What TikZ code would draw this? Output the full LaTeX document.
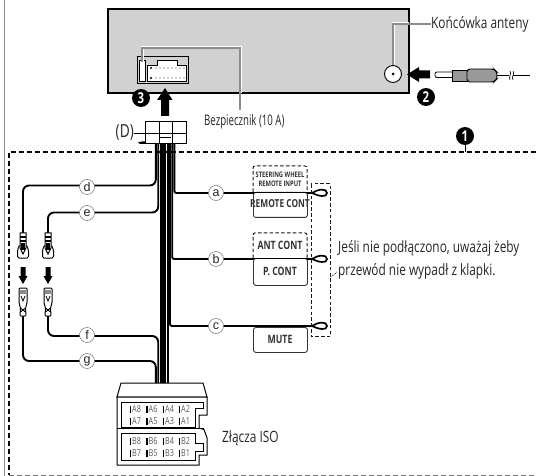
\documentclass[tikz,border=0pt]{standalone}
\usepackage{fontspec}
\setmainfont{Open Sans}[FakeStretch=0.76]
\newfontfamily\circfont{Liberation Sans}
\newfontfamily\narrowfont{Open Sans}[FakeStretch=0.66]
\begin{document}
\begin{tikzpicture}[x=1pt,y=-1pt,
  lab/.style={inner sep=0pt,font=\fontsize{15.6}{17}\selectfont,text=black!85,anchor=west},
  wire/.style={line width=1.9pt,black,rounded corners=6pt},
  wiresq/.style={line width=1.9pt,black,rounded corners=2pt},
  leader/.style={draw=black!45,line width=1.2pt},
  halo/.style={draw=white,line width=3pt},
  numdot/.style={circle,fill=black,text=white,inner sep=0pt,minimum size=18pt,font=\fontsize{15}{15}\selectfont\bfseries},
  wlabel/.style={circle,draw=black!55,line width=.5pt,fill=white,inner sep=0pt,minimum size=15pt,font=\circfont\fontsize{12.5}{12.5}\selectfont,text=black!85},
  bigarrow/.style={draw=none,fill=black},
  dashbox/.style={draw=black!90,line width=1pt,dash pattern=on 3.6pt off 2.2pt},
  termbox/.style={draw=black!80,line width=.9pt,fill=white,rounded corners=2.5pt},
  termtxt/.style={inner sep=0pt,text=black!80,align=center},
  pin/.style={inner sep=0pt,text=black!65,font=\fontsize{9.6}{10}\selectfont,anchor=west},
  frame/.style={line width=1.1pt,dash pattern=on 5pt off 3pt,black}]
\useasboundingbox (0,0) rectangle (536,476);
% outer frame
\draw[black!45,line width=1.4pt] (4.5,0) -- (4.5,476);
\coordinate (ftl) at (9,152); \coordinate (fbl) at (9,475); \coordinate (ftr) at (536,152); \coordinate (fbr) at (536,475);
\draw[frame] (ftr) -- (ftl) -- (fbl);
\draw[frame,black!55,line width=.9pt] (fbl) -- (fbr);
% head unit
\draw[black,line width=1.3pt,fill=black!18] (108,9) rectangle (409,93);
\draw[black,line width=.8pt] (137,56) rectangle (188,83);
\draw[black,line width=.8pt,fill=white] (139,60) rectangle (145,81);
\draw[black,line width=.8pt,fill=white] (147,81) -- (147,65) -- (157,65) -- (157,60) -- (177,60) -- (177,65) -- (186,65) -- (186,81) -- cycle;
\foreach \y in {68,78}{
  \fill (151,\y) circle (1.1pt);
  \foreach \x in {156,160,...,184}{\fill[black!80] (\x,\y) circle (.55pt);}
}
% fuse leader
\coordinate (fusetop) at (142,62); \coordinate (fusec1) at (142,48); \coordinate (fusec2) at (240,48); \coordinate (fuseend) at (240,110);
\draw[halo] (fusetop) -- (fusec1) -- (fusec2) -- (240,93);
\draw[leader] (fusetop) -- (fusec1) -- (fusec2) -- (fuseend);
\node[lab,font=\narrowfont\fontsize{14.6}{16}\selectfont] (fuselab) at (204,122) {Bezpiecznik (10 A)};
% antenna jack
\node[circle,draw=black,line width=.9pt,fill=white,minimum size=17pt,inner sep=0pt] (jack) at (393,74) {};
\fill (jack.center) circle (1.5pt);
\coordinate (jc1) at (393,24);
\node[lab] (antlab) at (431,24) {Końcówka anteny};
\draw[halo] (jack.north) -- (jc1) -- (409,24);
\draw[leader] (jack.north) -- (jc1) -- (antlab.west);
% arrow 2
\fill[bigarrow] (430,70.5) -- (419,70.5) -- (419,67) -- (407,74.5) -- (419,82) -- (419,78.5) -- (430,78.5) -- cycle;
\node[numdot] (n2) at (426,97) {2};
% antenna plug
\draw[black,line width=.8pt,fill=white,rounded corners=2pt] (452,72) -- (435,72) -- (435,77.5) -- (452,77.5);
\draw[black,line width=.9pt,fill=black!40] (452,70) rectangle (467,81);
\draw[black,line width=.9pt,fill=black!40,rounded corners=3pt] (467,69) -- (494,69) -- (497,72) -- (497,79) -- (494,82) -- (467,82) -- cycle;
\draw[black,line width=1.3pt] (497,75.5) -- (509,75.5) (513,75.5) -- (530,75.5);
\draw[black,line width=.6pt] (510,71) .. controls (512,74) and (508,77) .. (510,80);
\draw[black,line width=.6pt] (513,71) .. controls (515,74) and (511,77) .. (513,80);
% arrow 3
\fill[bigarrow] (161,116) -- (161,100) -- (157,100) -- (165,88) -- (172.5,100) -- (169,100) -- (169,116) -- cycle;
\node[numdot] (n3) at (141,98) {3};
% number 1
\node[numdot] (n1) at (465,136) {1};
\coordinate (n1end) at (465,152);
\draw[black,line width=.9pt] (n1) -- (n1end);
% wires
\foreach \x in {160.6,163,165.4,167.8}{\draw[line width=2.1pt] (\x,143) -- (\x,384);}
\coordinate (du) at (23,233); \coordinate (eu) at (48,233); \coordinate (fl) at (48,316); \coordinate (gl) at (23,316);
\coordinate (la) at (311,193); \coordinate (lb) at (311,259); \coordinate (lc) at (311,326);
\draw[wire] (155.8,143) -- (155.8,185.5) -- (23,185.5) -- (du);
\draw[wire] (158.2,143) -- (158.2,212.5) -- (48,212.5) -- (eu);
\draw[wire] (158.2,384) -- (158.2,336) -- (48,336) -- (fl);
\draw[wire] (155.8,384) -- (155.8,361) -- (23,361) -- (gl);
\draw[wiresq] (174.4,143) -- (174.4,193) -- (la);
\draw[wiresq] (172.2,143) -- (172.2,259) -- (lb);
\draw[wiresq] (170,143) -- (170,326) -- (lc);
\node[wlabel] (wd) at (87,187) {d};
\node[wlabel] (we) at (87,213) {e};
\node[wlabel] (wf) at (87,335) {f};
\node[wlabel] (wg) at (87,361) {g};
\node[wlabel] (wa) at (216,193) {a};
\node[wlabel] (wb) at (216,259) {b};
\node[wlabel] (wc) at (216,326) {c};
% (D) connector
\fill[black] (138,142.2) -- (140,144) -- (157,144) -- (157,141.5) -- (142,141.5) -- cycle;
\draw[black,line width=.9pt,fill=white] (145,121) rectangle (186,143);
\draw[black,line width=.9pt] (159,121) -- (159,143) (172,121) -- (172,143) (145,133) -- (159,133) (172,133) -- (186,133);
\draw[black,line width=.9pt,fill=white] (159,133) rectangle (172,143);
\draw[black,line width=.9pt] (160,137) -- (171,137);
\node[lab,anchor=east,font=\fontsize{18}{18}\selectfont] (dlab) at (134,133) {(D)};
\draw[black,line width=.8pt] (dlab.east) -- (145,133);
% terminal boxes
\node[termbox,minimum width=54pt,minimum height=25pt,inner sep=0pt,anchor=north west] (rc) at (253,192) {};
\node[termtxt,font=\fontsize{11}{11}\selectfont\bfseries] at (280,204) {REMOTE CONT};
\node[termbox,minimum width=54pt,minimum height=27pt,inner sep=0pt,anchor=north west] (pc) at (253,258) {};
\node[termtxt,font=\fontsize{11.5}{11.5}\selectfont\bfseries] at (280,271) {P. CONT};
\node[termbox,minimum width=54pt,minimum height=25pt,inner sep=0pt,anchor=north west] (mt) at (253,327) {};
\node[termtxt,font=\fontsize{11.5}{11.5}\selectfont\bfseries] at (280,339) {MUTE};
\draw[wire,rounded corners=0pt] (253,192.5) -- (307,192.5);
\draw[wire,rounded corners=0pt] (253,258.5) -- (307,258.5);
\draw[dashbox,rounded corners=2pt] (253,192) -- (253,166) -- (307,166) -- (307,192);
\draw[dashbox,rounded corners=2pt] (253,258) -- (253,233) -- (307,233) -- (307,258);
\node[termtxt,font=\fontsize{7.6}{8.8}\selectfont\bfseries] at (280,179) {STEERING WHEEL\\REMOTE INPUT};
\node[termtxt,font=\fontsize{11.5}{11.5}\selectfont\bfseries] at (280,245) {ANT CONT};
% loops
\foreach \y in {193,259,326}{
  \draw[black,line width=1.7pt] (307,\y) -- (313,\y);
  \draw[black,line width=1.7pt] (312,\y) .. controls (318,\y-4) and (327,\y-5) .. (327,\y) .. controls (327,\y+5) and (318,\y+3) .. (312,\y);
}
\node[draw=none,inner sep=0pt,minimum width=19pt,minimum height=152pt,anchor=north west] (dbox) at (311,184) {};
\draw[dashbox] (dbox.north west) rectangle (dbox.south east);
\coordinate (tdash) at (337,272);
\draw[dashbox,line width=.7pt,dash pattern=on 1.5pt off 1.2pt] (330,277) .. controls (332,276) and (334,275) .. (tdash);
\node[lab] (t1) at (338,248) {Jeśli nie podłączono, uważaj żeby};
\node[lab] (t2) at (338,271) {przewód nie wypadł z klapki.};
% plugs
\foreach \x in {23,48}{
  \draw[black,line width=1pt,fill=white,rounded corners=1.5pt] (\x-3.5,245) -- (\x-5.5,250) -- (\x-5.5,258) -- (\x+5.5,258) -- (\x+5.5,250) -- (\x+3.5,245) -- cycle;
  \draw[black,line width=1pt,fill=white] (\x-3,233) -- (\x+3,233) -- (\x+3,248) -- (\x,254) -- (\x-3,248) -- cycle;
  \draw[black,line width=1.2pt] (\x-3,237) -- (\x+3,237) (\x-3,241) -- (\x+3,241) (\x-1,243)--(\x-1,250) (\x+1,243)--(\x+1,250);
  \fill[bigarrow] (\x-2.5,267) -- (\x+2.5,267) -- (\x+2.5,276) -- (\x+4.5,276) -- (\x,284) -- (\x-4.5,276) -- (\x-2.5,276) -- cycle;
  \draw[black,line width=1pt,fill=white,rounded corners=1pt] (\x-4,288) -- (\x+4,288) -- (\x+4,303) -- (\x+2.5,308) -- (\x+3,316) -- (\x-3,316) -- (\x-2.5,308) -- (\x-4,303) -- cycle;
  \fill[black!45] (\x-3,290) rectangle (\x+3,294);
  \draw[black,line width=.8pt] (\x-2,296) -- (\x,301) -- (\x+2,296);
  \draw[black,line width=.9pt] (\x-2.5,308) -- (\x+2.5,312);
  \draw[black,line width=.9pt] (\x+2.5,308) -- (\x-2.5,312);
}
% ISO connector
\draw[black,line width=1pt,fill=white] (117,397) -- (121,383) -- (203,383) -- (207,397) -- cycle;
\draw[black,line width=1pt,fill=white] (117,397) -- (207,397) -- (207,415) -- (199,415) -- (199,428) -- (204,429.5) -- (207,438) -- (207,455) -- (199,455) -- (199,465) -- (117,465) -- cycle;
\draw[black,line width=1pt] (117,428) -- (204,428);
\draw[black,line width=.9pt] (121,402) -- (203,402) -- (203,408.5) -- (195,408.5) -- (195,427.5) -- (121,427.5) -- cycle;
\draw[black,line width=.9pt] (121,433) -- (195,433) -- (195,443) -- (203,443) -- (203,451.5) -- (195,451.5) -- (195,460.5) -- (121,460.5) -- cycle;
\foreach \a/\b/\x in {A8/A7/129.5,A6/A5/146,A4/A3/162.5,A2/A1/178.5}{
  \fill (\x,405.5) rectangle +(1.8,7); \fill (\x,418) rectangle +(1.8,7);
  \node[pin] at (\x+2.5,409) {\a}; \node[pin] at (\x+2.5,421.5) {\b};
}
\foreach \a/\b/\x in {B8/B7/129.5,B6/B5/146,B4/B3/162.5,B2/B1/178.5}{
  \fill (\x,437.5) rectangle +(1.8,7); \fill (\x,450) rectangle +(1.8,7);
  \node[pin] at (\x+2.5,441) {\a}; \node[pin] at (\x+2.5,453.5) {\b};
}
\node[lab] (iso) at (222,438) {Złącza ISO};
\end{tikzpicture}
\end{document}
